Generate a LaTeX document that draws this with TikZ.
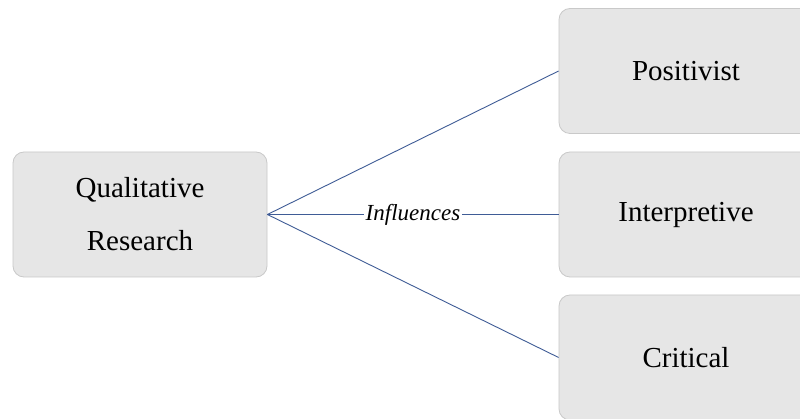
\documentclass[tikz,border=0pt]{standalone}
\usepackage{fontspec}
\setmainfont{Liberation Serif}
\definecolor{boxfill}{HTML}{E6E6E6}
\definecolor{boxline}{HTML}{C9C9C9}
\definecolor{linkblue}{HTML}{3F5C96}
\begin{document}
\begin{tikzpicture}[x=1pt,y=-1pt,
  catbox/.style={draw=boxline, fill=boxfill, line width=0.8pt, rounded corners=11pt,
    minimum width=254pt, minimum height=125pt, inner sep=0pt, align=center,
    font=\fontsize{29}{53}\selectfont, text=black},
  link/.style={draw=linkblue, line width=0.9pt},
  linklabel/.style={fill=white, inner sep=2pt, font=\fontsize{23}{26}\selectfont\itshape}]
  \clip (0,0) rectangle (800,419);
  \fill[white] (0,0) rectangle (800,419);
  % source box and the three paradigm boxes
  \node[catbox] (qual) at (140,214.5) {Qualitative\\Research};
  \node[catbox] (pos) at (686,71) {Positivist};
  \node[catbox] (int) at (686,214.5) {Interpretive};
  \node[catbox] (crit) at (686,357.5) {Critical};
  % connectors
  \draw[link] (qual.east) -- (pos.west);
  \draw[link] (qual.east) -- node[linklabel] (infl) {Influences} (int.west);
  \draw[link] (qual.east) -- (crit.west);
\end{tikzpicture}
\end{document}
